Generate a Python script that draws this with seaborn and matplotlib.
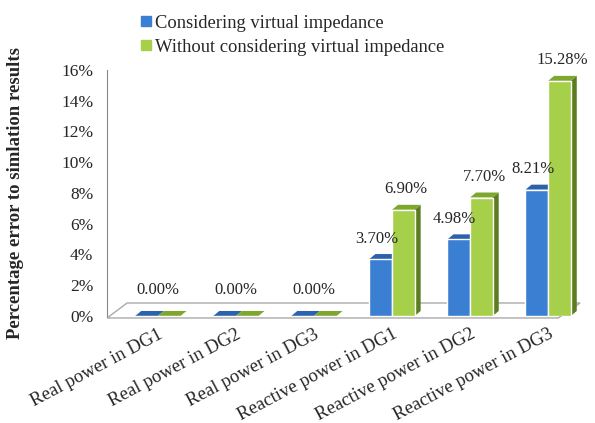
import seaborn as sns
import matplotlib.pyplot as plt
import pandas as pd
from matplotlib.patches import Polygon
from matplotlib.lines import Line2D
from matplotlib.transforms import IdentityTransform

categories = ['Real power in DG1', 'Real power in DG2', 'Real power in DG3',
              'Reactive power in DG1', 'Reactive power in DG2', 'Reactive power in DG3']
with_vi = [0.0, 0.0, 0.0, 3.70, 4.98, 8.21]
without_vi = [0.0, 0.0, 0.0, 6.90, 7.70, 15.28]
series = ['Considering virtual impedance', 'Without considering virtual impedance']

df = pd.DataFrame({
    'cat': categories * 2,
    'val': with_vi + without_vi,
    'series': [series[0]] * 6 + [series[1]] * 6,
})

front = {series[0]: '#3b7fd2', series[1]: '#a6cf4a'}
side = {series[0]: '#2a5c9e', series[1]: '#5b7c20'}
top = {series[0]: '#2c62ad', series[1]: '#7fa72f'}

sns.set_style('white')
plt.rcParams['font.family'] = ['Liberation Serif', 'DejaVu Serif']

fig = plt.figure(figsize=(5.95, 4.23), dpi=100)
ax = fig.add_axes([0.18, 0.253, 0.795, 0.582])

sns.barplot(data=df, x='cat', y='val', hue='series', palette=front,
            width=0.58, saturation=1, legend=False, ax=ax, zorder=3)
bars = list(ax.patches)

ax.set_ylim(0, 16)
ax.set_xlim(-0.65, 5.41)
ax.set_yticks(range(0, 17, 2))
ax.set_yticklabels([f'{t}%' for t in range(0, 17, 2)], fontsize=12.5)
ax.set_xticks(range(len(categories)))
ax.set_xticklabels(categories, rotation=28, ha='right', rotation_mode='anchor', fontsize=13.5)
ax.tick_params(axis='y', length=0, pad=10)
ax.tick_params(axis='x', length=0, pad=7)
for lbl in ax.get_xticklabels():
    lbl.set_x(lbl.get_position()[0])
for s in ['top', 'right', 'bottom']:
    ax.spines[s].set_visible(False)
ax.spines['left'].set_color('#888888')
ax.set_xlabel('')
ax.set_ylabel('Percentage error to simlation results', fontsize=13.5, fontweight='bold', labelpad=27)

# floor (3D look)
fig.canvas.draw()
tr = ax.transData
x0, y0 = ax.transAxes.transform((0, 0))
x1, _ = ax.transAxes.transform((1, 0))
dx, dy = 6, 5
ident = IdentityTransform()
floor = Polygon([(x0, y0 - 2), (x1 - 22, y0 - 2), (x1, y0 + 13), (x0 + 20, y0 + 13)],
                closed=True, transform=ident, facecolor='white', edgecolor='#aaaaaa',
                lw=1, zorder=1, clip_on=False)
ax.add_artist(floor)

# side and top faces for each bar
n = len(categories)
for i, p in enumerate(bars):
    s = series[i // n]
    bx, by = p.get_x(), p.get_height()
    w = p.get_width()
    (ax0, ay0) = tr.transform((bx, 0))
    (ax1, ay1) = tr.transform((bx + w, by))
    sp = Polygon([(ax1, ay0), (ax1 + dx, ay0 + dy), (ax1 + dx, ay1 + dy), (ax1, ay1)],
                 closed=True, transform=ident, facecolor=side[s], edgecolor='none',
                 zorder=2, clip_on=False)
    tp = Polygon([(ax0, ay1), (ax1, ay1), (ax1 + dx, ay1 + dy), (ax0 + dx, ay1 + dy)],
                 closed=True, transform=ident, facecolor=top[s], edgecolor='none',
                 zorder=2, clip_on=False)
    ax.add_artist(sp)
    ax.add_artist(tp)

# value labels
for j in range(n):
    pb, pg = bars[j], bars[j + n]
    if with_vi[j] == 0 and without_vi[j] == 0:
        cx = (pb.get_x() + pg.get_x() + pg.get_width()) / 2
        ax.annotate('0.00%', (cx, 0), xytext=(0, 13), textcoords='offset points',
                    ha='center', va='bottom', fontsize=12)
        continue
    for p, v, off in [(pb, with_vi[j], -3), (pg, without_vi[j], 2)]:
        ax.annotate(f'{v:.2f}%', (p.get_x() + p.get_width() / 2, v), xytext=(off, 9),
                    textcoords='offset points', ha='center', va='bottom', fontsize=12)

handles = [Line2D([], [], marker='s', ls='', color=front[s], markersize=7) for s in series]
fig.legend(handles, series, loc='upper left', bbox_to_anchor=(0.205, 1.005), frameon=False,
           fontsize=13.3, handletextpad=0.1, labelspacing=0.4, handlelength=0.8)

fig.savefig('out.png', dpi=100)
